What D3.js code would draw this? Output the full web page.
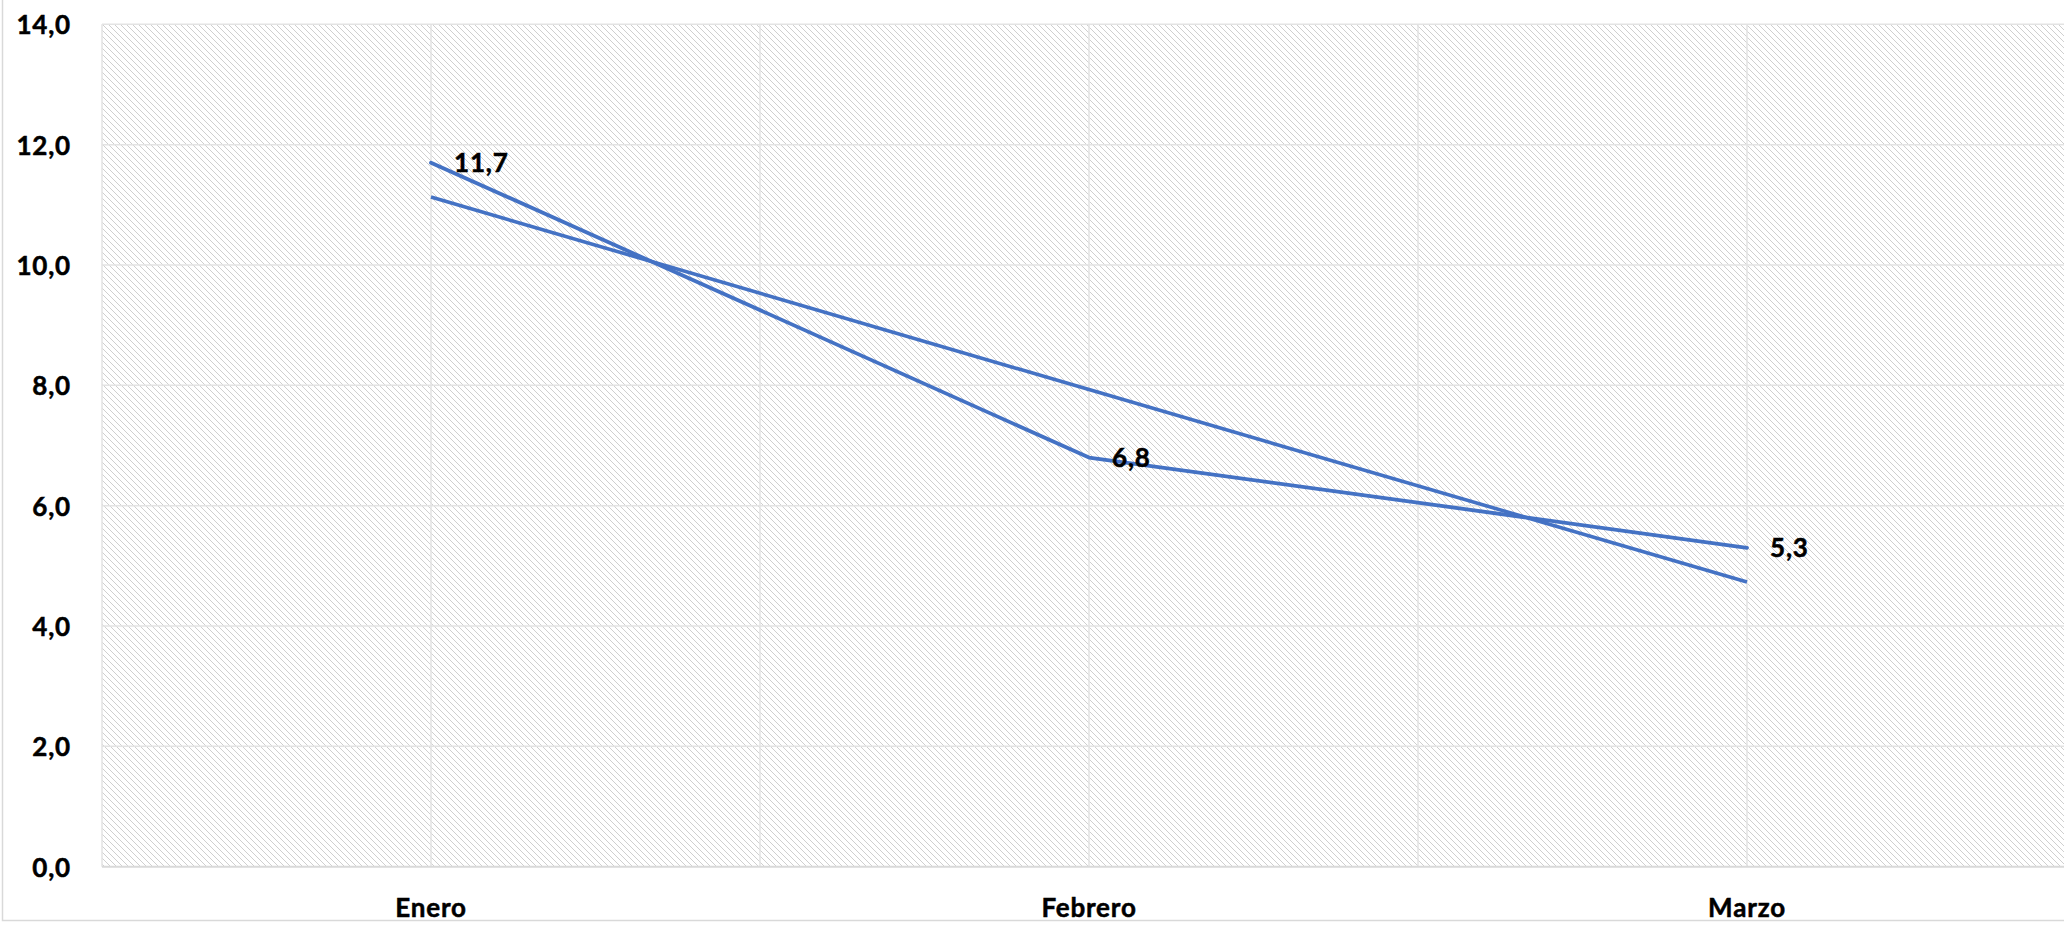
<!DOCTYPE html>
<html>
<head>
<meta charset="utf-8">
<script src="https://cdn.jsdelivr.net/npm/d3@7"></script>
<style>
html,body{margin:0;padding:0;background:#fff;overflow:hidden;}
svg{display:block;}
</style>
</head>
<body>
<svg id="chart" width="2064" height="926"></svg>
<script>
const categories = ["Enero", "Febrero", "Marzo"];
const values = [11.7, 6.8, 5.3];
const trendValues = [11.13, 7.93, 4.73];
const yTicks = [0, 2, 4, 6, 8, 10, 12, 14];

(function () {
const svg = d3.select("#chart");
const W = 2064, H = 926;
const mLeft = 102, mTop = 24.3, mBottom = 866.7;
const band = 658;
const mRight = mLeft + band * categories.length;
const FONT = "Lato, 'Open Sans', sans-serif";
const FS = 26, LS = 0.8;

const x = d3.scaleBand().domain(categories).range([mLeft, mRight]).padding(0);
const y = d3.scaleLinear().domain([0, 14]).range([mBottom, mTop]);
const cx = c => x(c) + x.bandwidth() / 2;

const styleText = sel => sel.attr("font-family", FONT).attr("font-weight", "bold")
  .attr("font-size", FS).attr("letter-spacing", LS).attr("fill", "#000")
  .attr("stroke", "#000").attr("stroke-width", 0.5);

// chart border
svg.append("rect").attr("x", 2.5).attr("y", -5).attr("width", W + 10).attr("height", H + 4.5 - 5)
  .attr("fill", "none").attr("stroke", "#d9d9d9").attr("stroke-width", 1.5);

// hatch pattern
const defs = svg.append("defs");
const pat = defs.append("pattern").attr("id", "hatch").attr("patternUnits", "userSpaceOnUse")
  .attr("width", 6).attr("height", 6);
pat.append("rect").attr("width", 6).attr("height", 6).attr("fill", "#fff");
pat.append("path").attr("d", "M-1,-1 L7,7 M-1,5 L1,7 M5,-1 L7,1")
  .attr("stroke", "#cfcfcf").attr("stroke-width", 1.1).attr("shape-rendering", "crispEdges");

svg.append("rect").attr("x", mLeft).attr("y", mTop).attr("width", mRight - mLeft).attr("height", mBottom - mTop)
  .attr("fill", "url(#hatch)");

// horizontal gridlines
svg.append("g").selectAll("line").data(yTicks.filter(d => d > 0)).join("line")
  .attr("x1", mLeft).attr("x2", mRight).attr("y1", d => y(d)).attr("y2", d => y(d))
  .attr("stroke", "#e3e3e3").attr("stroke-width", 1.5);

// vertical gridlines (category boundaries and centers)
const vlines = [];
categories.forEach(c => { vlines.push(x(c)); vlines.push(cx(c)); });
vlines.push(mRight);
svg.append("g").selectAll("line").data(vlines).join("line")
  .attr("x1", d => d).attr("x2", d => d).attr("y1", mTop).attr("y2", mBottom)
  .attr("stroke", "#e3e3e3").attr("stroke-width", 1.5);

// x axis line
svg.append("line").attr("x1", mLeft).attr("x2", mRight).attr("y1", mBottom).attr("y2", mBottom)
  .attr("stroke", "#d9d9d9").attr("stroke-width", 2);

const fmt = d => d3.format(".1f")(d).replace(".", ",");

// y axis labels
const yAxis = d3.axisLeft(y).tickValues(yTicks).tickFormat(fmt).tickSize(0).tickPadding(0);
const ya = svg.append("g").attr("transform", "translate(71,0)").call(yAxis);
ya.select(".domain").remove();
ya.selectAll("text").call(styleText).attr("dy", "0.36em");

// x axis labels
const xAxis = d3.axisBottom(x).tickSize(0).tickPadding(0);
const xa = svg.append("g").attr("transform", "translate(0,917)").call(xAxis);
xa.select(".domain").remove();
xa.selectAll("text").call(styleText).attr("dy", "0");

// trendline
const line = d3.line().x((d, i) => cx(categories[i])).y(d => y(d));
svg.append("path").datum(trendValues).attr("d", line)
  .attr("fill", "none").attr("stroke", "#4472C4").attr("stroke-width", 3.6);

// data line
svg.append("path").datum(values).attr("d", line)
  .attr("fill", "none").attr("stroke", "#4472C4").attr("stroke-width", 3.8)
  .attr("stroke-linejoin", "round").attr("stroke-linecap", "round");

// data labels
svg.append("g").selectAll("text").data(values).join("text")
  .attr("x", (d, i) => cx(categories[i]) + 23).attr("y", d => y(d))
  .attr("dy", "0.36em")
  .call(styleText)
  .text(fmt);
})();
</script>
</body>
</html>
